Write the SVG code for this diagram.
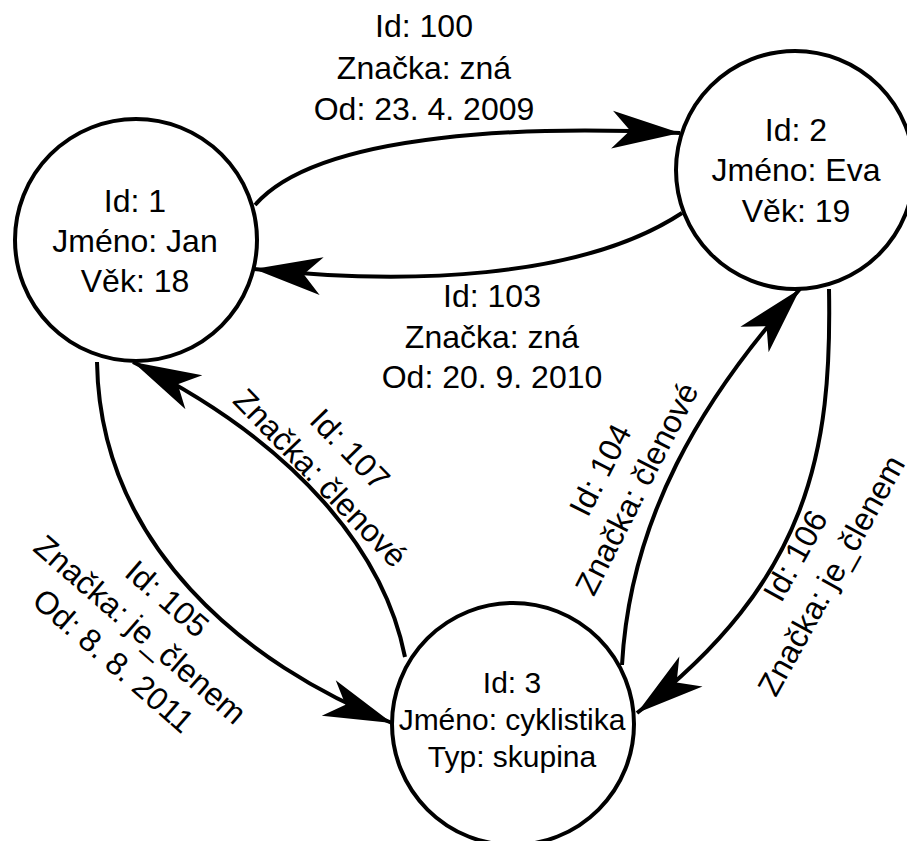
<svg xmlns="http://www.w3.org/2000/svg" width="907" height="841" viewBox="0 0 907 841">
  <style>
    .node circle { fill: #ffffff; stroke: #000000; stroke-width: 4; }
    .node text { font-family: "Liberation Sans", Arial, sans-serif; font-size: 32px; fill: #000000; text-anchor: middle; }
    .node.small text { font-size: 30px; }
    .edge path { fill: none; stroke: #000000; stroke-width: 4; marker-end: url(#arrow); }
    .label text { font-family: "Liberation Sans", Arial, sans-serif; font-size: 32px; fill: #000000; text-anchor: middle; }
  </style>
  <defs>
    <marker id="arrow" markerUnits="userSpaceOnUse" viewBox="-70 -22 72 44" markerWidth="72" markerHeight="44" refX="0" refY="0" orient="auto" overflow="visible">
      <path d="M0,0 L-68,-19 L-50,0 L-68,19 Z" fill="#000000"/>
    </marker>
  </defs>
  <rect width="907" height="841" fill="#ffffff"/>

  <!-- connectors -->
  <g id="connectors">
    <g class="edge" id="e100"><path d="M255,205 C320,130 540,126 680,133"/></g>
    <g class="edge" id="e103"><path d="M682,213 C580,280 404,285 254,269"/></g>
    <g class="edge" id="e107"><path d="M405,657 C385,555 300,445 133,362"/></g>
    <g class="edge" id="e105"><path d="M97,362 C100,545 245,665 392,723"/></g>
    <g class="edge" id="e104"><path d="M622,665 C630,520 700,400 800,289"/></g>
    <g class="edge" id="e106"><path d="M829,289 C832,450 810,580 637,713"/></g>
  </g>

  <!-- connector labels -->
  <g class="label" id="l100">
    <text x="424" y="37">Id: 100</text>
    <text x="424" y="79">Značka: zná</text>
    <text x="424" y="120">Od: 23. 4. 2009</text>
  </g>
  <g class="label" id="l103">
    <text x="492" y="307">Id: 103</text>
    <text x="492" y="348">Značka: zná</text>
    <text x="492" y="388">Od: 20. 9. 2010</text>
  </g>
  <g class="label" id="l107" transform="translate(342,457) rotate(46)">
    <text x="0" y="0">Id: 107</text>
    <text x="0" y="41">Značka: členové</text>
  </g>
  <g class="label" id="l105" transform="translate(160,607) rotate(41)">
    <text x="0" y="0">Id: 105</text>
    <text x="0" y="41">Značka: je_členem</text>
    <text x="0" y="82">Od: 8. 8. 2011</text>
  </g>
  <g class="label" id="l104" transform="translate(610,475) rotate(-63)">
    <text x="0" y="0">Id: 104</text>
    <text x="0" y="41">Značka: členové</text>
  </g>
  <g class="label" id="l106" transform="translate(805,561) rotate(-61)">
    <text x="0" y="0">Id: 106</text>
    <text x="0" y="41">Značka: je_členem</text>
  </g>

  <!-- nodes -->
  <g class="node" id="n1">
    <circle cx="136" cy="240" r="121"/>
    <text x="135" y="212">Id: 1</text>
    <text x="135" y="252">Jméno: Jan</text>
    <text x="135" y="292">Věk: 18</text>
  </g>
  <g class="node" id="n2">
    <circle cx="795" cy="170" r="119"/>
    <text x="796" y="141">Id: 2</text>
    <text x="796" y="181">Jméno: Eva</text>
    <text x="796" y="222">Věk: 19</text>
  </g>
  <g class="node small" id="n3">
    <circle cx="513" cy="724" r="121"/>
    <text x="512" y="693">Id: 3</text>
    <text x="512" y="730">Jméno: cyklistika</text>
    <text x="512" y="767">Typ: skupina</text>
  </g>
</svg>
